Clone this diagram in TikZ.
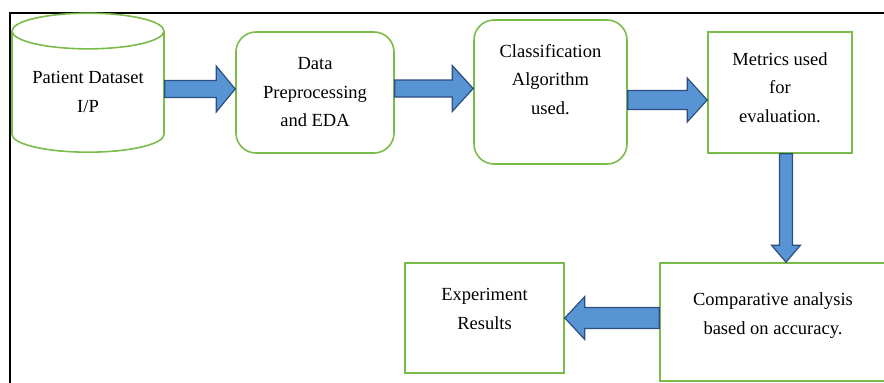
\documentclass[tikz,border=0pt]{standalone}
\usepackage{fontspec}
\setmainfont{Liberation Serif}
\usetikzlibrary{positioning, shapes.geometric, calc}

\definecolor{boxgreen}{RGB}{122,188,74}
\definecolor{arrowfill}{RGB}{88,148,212}
\definecolor{arrowline}{RGB}{44,78,128}

% fat block arrow: shaft half width, head half width, head length, from, to
\newcommand{\fatarrow}[5]{%
  \path[draw=arrowline, fill=arrowfill, line width=1.2pt, line join=miter]
    let \p1=(#4), \p2=(#5), \n1={atan2(\y2-\y1,\x2-\x1)}, \n2={veclen(\x2-\x1,\y2-\y1)}
    in [shift={(\p1)}, rotate=\n1]
    (0,-#1) -- (\n2-#3,-#1) -- (\n2-#3,-#2) -- (\n2,0) -- (\n2-#3,#2) -- (\n2-#3,#1) -- (0,#1) -- cycle;}

\begin{document}
\begin{tikzpicture}[x=1pt, y=-1pt,
    every node/.style={font=\fontsize{18.5}{28.5}\selectfont, align=center, inner sep=0pt},
    greenbox/.style={draw=boxgreen, line width=1.6pt},
    roundbox/.style={greenbox, rounded corners=20pt},
    dbase/.style={greenbox, cylinder, shape border rotate=90, aspect=0.32}]
  \useasboundingbox (0,0) rectangle (884,383);
  \draw[line width=1.5pt] (884,13) -- (10,13) -- (10,383);

  \node[dbase, minimum width=152, minimum height=139] (data) at (88,92) {Patient Dataset\\I/P};
  \node[roundbox, minimum width=158, minimum height=121] (prep) at (315,92.5) {Data\\Preprocessing\\and EDA};
  \node[roundbox, minimum width=153, text height=94pt, text depth=50pt] (algo) at (550.5,92) {Classification\\Algorithm\\used.};
  \node[greenbox, minimum width=144, text height=90pt, text depth=31pt] (metric) at (780,92.5) {Metrics used\\for\\evaluation.};
  \node[greenbox, minimum width=226, text height=71pt, text depth=47pt] (comp) at (773,322) {Comparative analysis\\based on accuracy.};
  \node[greenbox, minimum width=159, text height=66pt, text depth=44pt] (result) at (484.5,318) {Experiment\\Results};

  \fatarrow{8.5}{23}{19}{[yshift=3pt]data.east}{[yshift=3pt]data.east -| prep.west}
  \fatarrow{8.5}{23}{21}{[yshift=4pt]prep.east}{[yshift=4pt]prep.east -| algo.west}
  \fatarrow{9.5}{22}{20}{[yshift=-8pt]algo.east}{[yshift=-8pt]algo.east -| metric.west}
  \fatarrow{6.5}{14.5}{17}{[xshift=6pt]metric.south}{[xshift=6pt]metric.south |- comp.north}
  \fatarrow{10.5}{21.5}{20}{[yshift=4pt]comp.west}{[yshift=4pt]comp.west -| result.east}
\end{tikzpicture}
\end{document}
